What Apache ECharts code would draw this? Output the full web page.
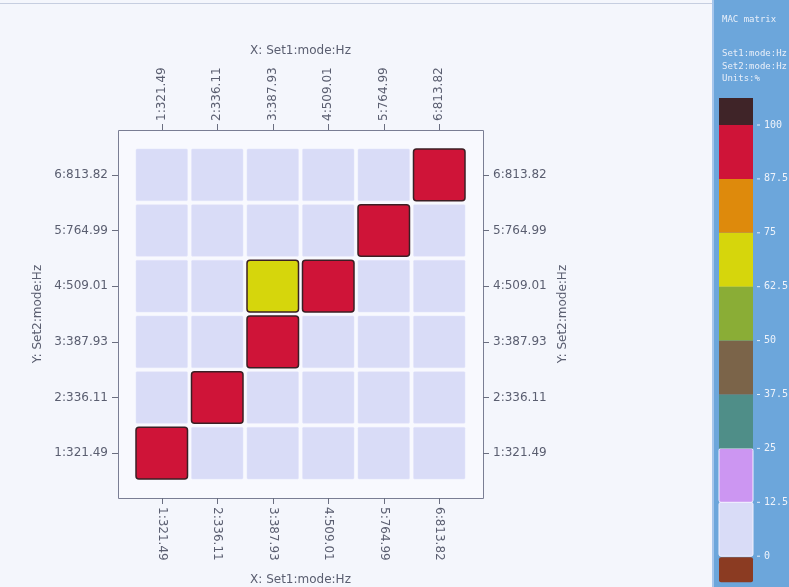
<!DOCTYPE html>
<html>
<head>
<meta charset="utf-8">
<script src="https://cdn.jsdelivr.net/npm/echarts@6/dist/echarts.min.js"></script>
<style>
  html, body { margin: 0; padding: 0; background: #f4f6fc; }
  #chart { width: 789px; height: 587px; }
</style>
</head>
<body>
<div id="chart"></div>
<script>
// Mode labels (index:frequency) for both sets
const set1Modes = ['1:321.49', '2:336.11', '3:387.93', '4:509.01', '5:764.99', '6:813.82'];
const set2Modes = ['1:321.49', '2:336.11', '3:387.93', '4:509.01', '5:764.99', '6:813.82'];

// MAC values in %, one row per Set2 mode (bottom to top), one column per Set1 mode
const macRow1 = [100.0, 4.1, 1.2, 0.6, 0.3, 1.8];
const macRow2 = [3.7, 99.8, 2.4, 1.1, 0.9, 0.4];
const macRow3 = [1.5, 2.2, 99.6, 5.3, 0.7, 0.2];
const macRow4 = [0.9, 1.4, 68.5, 99.9, 1.6, 0.8];
const macRow5 = [0.4, 0.6, 1.0, 2.1, 99.7, 3.2];
const macRow6 = [1.2, 0.5, 0.3, 0.9, 2.8, 100.0];
const macRows = [macRow1, macRow2, macRow3, macRow4, macRow5, macRow6];

// Colour scale: band boundaries and colours (below min, bands, above max)
const scaleTicks = [0, 12.5, 25, 37.5, 50, 62.5, 75, 87.5, 100];
const bandColors = ['#d9dcf7', '#cc96f2', '#4f8e88', '#7b6449', '#8aad36', '#d6d60c', '#de8a0c', '#cf1438'];
const underColor = '#8b3b22';
const overColor = '#3f2428';
const scaleTickLabels = ['0', '12.5', '25', '37.5', '50', '62.5', '75', '87.5', '100'];

function colorFor(v) {
  if (v < scaleTicks[0]) return underColor;
  if (v > scaleTicks[scaleTicks.length - 1]) return overColor;
  for (let i = 1; i < scaleTicks.length; i++) {
    if (v <= scaleTicks[i]) return bandColors[i - 1];
  }
  return overColor;
}

const cells = [];
macRows.forEach((row, yi) => row.forEach((v, xi) => cells.push([xi, yi, v])));

const labelFont = { fontFamily: 'DejaVu Sans', fontSize: 12, color: '#5a5e70' };
const tickStyle = { show: true, alignWithLabel: true, length: 6, lineStyle: { color: '#6a6e80', width: 1 } };

// Frame and side panel geometry
const frame = { x: 118, y: 130, w: 365, h: 368 };
const panelX = 712;
const barX = 719, barW = 34, barTop = 125, bandH = 53.9;

const graphics = [
  { type: 'line', z: 0, shape: { x1: 0, y1: 3.5, x2: panelX, y2: 3.5 }, style: { stroke: '#c6cee0', lineWidth: 1 } },
  { type: 'rect', z: 0, shape: { x: frame.x + 0.5, y: frame.y + 0.5, width: frame.w, height: frame.h },
    style: { fill: '#f8f9fe', stroke: '#7a7e94', lineWidth: 1 } },
  { type: 'rect', z: 0, shape: { x: panelX, y: 0, width: 789 - panelX, height: 587 }, style: { fill: '#6ca6db' } },
  { type: 'rect', z: 0, shape: { x: panelX, y: 0, width: 2, height: 587 }, style: { fill: '#a6c6ec' } }
];

const panelFont = 'DejaVu Sans Mono';
const panelTexts = [['MAC matrix', 20], ['Set1:mode:Hz', 54], ['Set2:mode:Hz', 67], ['Units:%', 79]];
panelTexts.forEach(([t, y]) => graphics.push({
  type: 'text', z: 5, style: { text: t, x: 722, y: y, fill: '#e9eff9', font: '9px ' + panelFont, textVerticalAlign: 'middle' }
}));

// Colour bar: over-range block, bands (top = highest), under-range block
const nb = bandColors.length;
graphics.push({ type: 'rect', z: 3, shape: { x: barX, y: barTop - 27, width: barW, height: 27 }, style: { fill: overColor } });
for (let i = 0; i < nb; i++) {
  const y = barTop + (nb - 1 - i) * bandH;
  const light = i < 2;
  graphics.push({ type: 'rect', z: 3, shape: { x: barX, y: y, width: barW, height: bandH, r: light ? 2 : 0 },
    style: { fill: bandColors[i], stroke: light ? '#f2f2ff' : null, lineWidth: light ? 1 : 0 } });
}
graphics.push({ type: 'rect', z: 3, shape: { x: barX, y: barTop + nb * bandH + 1, width: barW, height: 25, r: 2 }, style: { fill: underColor } });
scaleTicks.forEach((t, i) => {
  const y = barTop + (scaleTicks.length - 1 - i) * bandH;
  graphics.push({ type: 'line', z: 4, shape: { x1: 757, y1: y, x2: 760, y2: y }, style: { stroke: '#e9eff9', lineWidth: 1 } });
  graphics.push({ type: 'text', z: 4, style: { text: scaleTickLabels[i], x: 764, y: y, fill: '#eef3fb',
    font: '10px ' + panelFont, textVerticalAlign: 'middle' } });
});

const xAxisBase = {
  type: 'category', data: set1Modes, boundaryGap: true, offset: 17,
  name: 'X: Set1:mode:Hz', nameLocation: 'middle',
  nameTextStyle: labelFont,
  axisLine: { show: false }, axisTick: tickStyle,
  axisLabel: Object.assign({ rotate: -90, margin: 9 }, labelFont),
  splitLine: { show: false }
};
const yAxisBase = {
  type: 'category', data: set2Modes, boundaryGap: true, offset: 16,
  name: 'Y: Set2:mode:Hz', nameLocation: 'middle', nameGap: 74, nameRotate: 90,
  nameTextStyle: labelFont,
  axisLine: { show: false }, axisTick: tickStyle,
  axisLabel: Object.assign({ margin: 10 }, labelFont),
  splitLine: { show: false }
};

const chart = echarts.init(document.getElementById('chart'), null, { renderer: 'canvas' });
chart.setOption({
  backgroundColor: '#f4f6fc',
  animation: false,
  grid: { left: 134, right: 789 - 467, top: 147, bottom: 587 - 481, containLabel: false, outerBoundsMode: 'none' },
  xAxis: [
    Object.assign({}, xAxisBase, { position: 'top', nameGap: 73 }),
    Object.assign({}, xAxisBase, { position: 'bottom', nameGap: 76 })
  ],
  yAxis: [
    Object.assign({}, yAxisBase, { position: 'left' }),
    Object.assign({}, yAxisBase, { position: 'right' })
  ],
  graphic: graphics,
  series: [{
    type: 'custom',
    xAxisIndex: 0, yAxisIndex: 0,
    data: cells,
    encode: { x: 0, y: 1 },
    z: 10,
    renderItem: function (params, api) {
      const v = api.value(2);
      const c = api.coord([api.value(0), api.value(1)]);
      const band = api.size([1, 1]);
      const w = band[0] - 4, h = band[1] - 4;
      const strong = v >= scaleTicks[1];
      return {
        type: 'rect',
        shape: { x: c[0] - w / 2, y: c[1] - h / 2, width: w, height: h, r: strong ? 3 : 1 },
        style: { fill: colorFor(v), stroke: strong ? '#3b1f24' : '#e2e4fa', lineWidth: strong ? 1.5 : 0.5 }
      };
    }
  }]
});
</script>
</body>
</html>
